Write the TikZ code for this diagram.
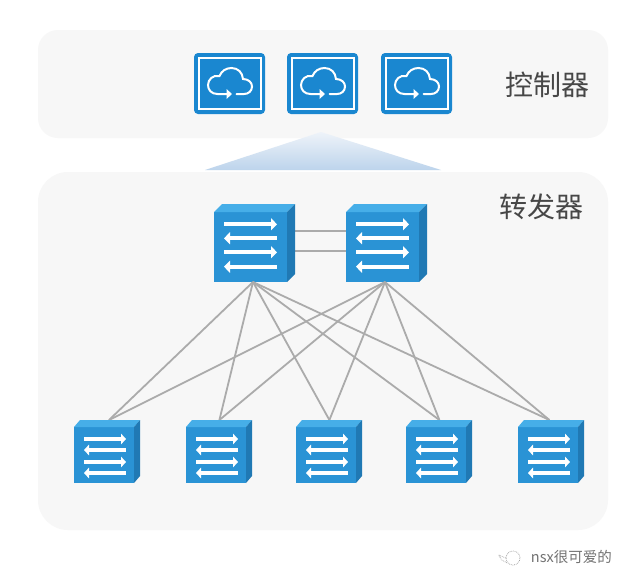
\documentclass[tikz,border=0pt]{standalone}
\usepackage{fontspec}
\newfontfamily\cjk{Noto Sans CJK SC}
\usetikzlibrary{positioning,calc,arrows.meta}
\definecolor{panelgray}{HTML}{F7F7F7}
\definecolor{iconblue}{HTML}{1A87D0}
\definecolor{frontblue}{HTML}{2A93D5}
\definecolor{topblue}{HTML}{46AEE8}
\definecolor{sideblue}{HTML}{2079B4}
\definecolor{linkgray}{HTML}{ABABAB}
\definecolor{fadetop}{HTML}{EEF3F9}
\definecolor{fadebot}{HTML}{BDD4EC}
\tikzstyle{panel} = [fill=panelgray, rectangle, inner sep=0pt, outer sep=0pt, minimum width=570pt]
\tikzstyle{ctrlbox} = [fill=iconblue, rectangle, rounded corners=4pt, minimum width=71pt, minimum height=61pt, inner sep=0pt, outer sep=0pt]
\tikzstyle{corebox} = [fill=frontblue, rectangle, minimum width=73pt, minimum height=70pt, inner sep=0pt, outer sep=0pt]
\tikzstyle{edgebox} = [fill=frontblue, rectangle, minimum width=60pt, minimum height=56pt, inner sep=0pt, outer sep=0pt]
\tikzstyle{link} = [draw=linkgray, line width=1.8pt]
\tikzstyle{title} = [text=black!72, font=\cjk\fontsize{28}{28}\selectfont, inner sep=0pt]
\tikzstyle{coreright} = [white, line width=4.2pt, -{Triangle[length=6pt,width=12pt]}]
\tikzstyle{coreleft} = [white, line width=4.2pt, {Triangle[length=6pt,width=12pt]}-]
\tikzstyle{edgeright} = [white, line width=3.4pt, -{Triangle[length=5pt,width=10.5pt]}]
\tikzstyle{edgeleft} = [white, line width=3.4pt, {Triangle[length=5pt,width=10.5pt]}-]
% top and side faces of a switch
\newcommand{\switchfaces}[3]{
  \fill[topblue] (#1.north west) -- ++(#2,-#3) -- ($(#1.north east)+(#2,-#3)$) -- (#1.north east) -- cycle;
  \fill[sideblue] (#1.north east) -- ++(#2,-#3) -- ($(#1.south east)+(#2,-#3)$) -- (#1.south east) -- cycle;
}
% cloud outline round the centre of a controller
\newcommand{\cloudicon}[1]{
  \begin{scope}[shift={(#1)}]
    \draw[white, line width=2pt, line cap=round]
      (-1,10.5) -- (-12,10.5) .. controls (-18,10.5) and (-21.5,6.5) .. (-21.5,1.5)
      .. controls (-21.5,-4) and (-16.5,-9) .. (-10,-7.5)
      .. controls (-8,-12.5) and (-3.5,-15.5) .. (2,-15.5)
      .. controls (8.5,-15.5) and (13,-11) .. (13.5,-4.5)
      .. controls (19,-4.5) and (22.5,-1) .. (22.5,3)
      .. controls (22.5,7.5) and (19,10.5) .. (14.5,10.5) -- (7,10.5);
    \fill[white] (-3,5.5) -- (2.5,10.5) -- (-3,15.5) -- cycle;
  \end{scope}
}
\begin{document}
\begin{tikzpicture}[x=1pt, y=-1pt]
    \useasboundingbox (0,0) rectangle (632,584);
    \fill[white] (0,0) rectangle (632,584);

    \node [panel, minimum height=108pt, rounded corners=20pt] (ctrlpanel) at (323,84) {};
    \shade[top color=fadetop, bottom color=fadebot] (321,132) -- (441,170) -- (205,170) -- cycle;
    \node [panel, minimum height=358pt, rounded corners=30pt] (fwdpanel) at (323,351) {};

    \node [ctrlbox] (ctrl1) at (229.5,83.5) {};
    \node [ctrlbox, right=22pt of ctrl1] (ctrl2) {};
    \node [ctrlbox, right=23pt of ctrl2] (ctrl3) {};
    \foreach \c in {ctrl1,ctrl2,ctrl3} {
        \draw[white, line width=2pt] ($(\c.center)+(-31,-25.5)$) rectangle ($(\c.center)+(31,25.5)$);
        \cloudicon{\c.center}
    }

    \node [title, anchor=east] (ctrltitle) at (590,85) {控制器};
    \node [title, anchor=east] (fwdtitle) at (584,207) {转发器};

    \node [corebox] (core1) at (250.5,247) {};
    \node [corebox, right=59pt of core1] (core2) {};

    \node [edgebox] (edge1) at (104,455) {};
    \node [edgebox, right=52pt of edge1] (edge2) {};
    \node [edgebox, right=50pt of edge2] (edge3) {};
    \node [edgebox, right=50pt of edge3] (edge4) {};
    \node [edgebox, right=52pt of edge4] (edge5) {};

    \draw[link] ([yshift=16pt]core1.east) -- ([yshift=16pt]core2.west);
    \draw[link] ([yshift=-4pt]core1.east) -- ([yshift=-4pt]core2.west);

    \foreach \c in {core1,core2}
        \foreach \e/\off in {edge1/5,edge2/3.4,edge3/3.4,edge4/3.4,edge5/1.4}
            \draw[link] ([xshift=2.5pt]\c.south) -- ([xshift=\off pt,yshift=7pt]\e.north);

    \foreach \c in {core1,core2} {
        \switchfaces{\c}{8}{8}
        \foreach \d/\s in {12.3/coreright,26.3/coreleft,40.3/coreright,54.7/coreleft}
            \draw[\s] ($(\c.north west)+(10,\d)$) -- ($(\c.north east)+(-10,\d)$);
    }
    \foreach \e in {edge1,edge2,edge3,edge4,edge5} {
        \switchfaces{\e}{6}{7}
        \foreach \d/\s in {12/edgeright,23/edgeleft,35/edgeright,46/edgeleft}
            \draw[\s] ($(\e.north west)+(10,\d)$) -- ($(\e.north east)+(-8,\d)$);
    }

    \node [circle, draw=black!40, densely dotted, line width=.7pt, minimum size=14pt, inner sep=0pt] (mark) at (513,558) {};
    \draw[black!40, densely dotted, line width=.7pt] (mark.west) -- ++(-7,-3) -- ++(3,5) -- (mark.south west);
    \node [text=black!55, font=\cjk\fontsize{14.5}{14.5}\selectfont, inner sep=0pt, anchor=east] (credit) at (612,557) {nsx很可爱的};
\end{tikzpicture}
\end{document}
